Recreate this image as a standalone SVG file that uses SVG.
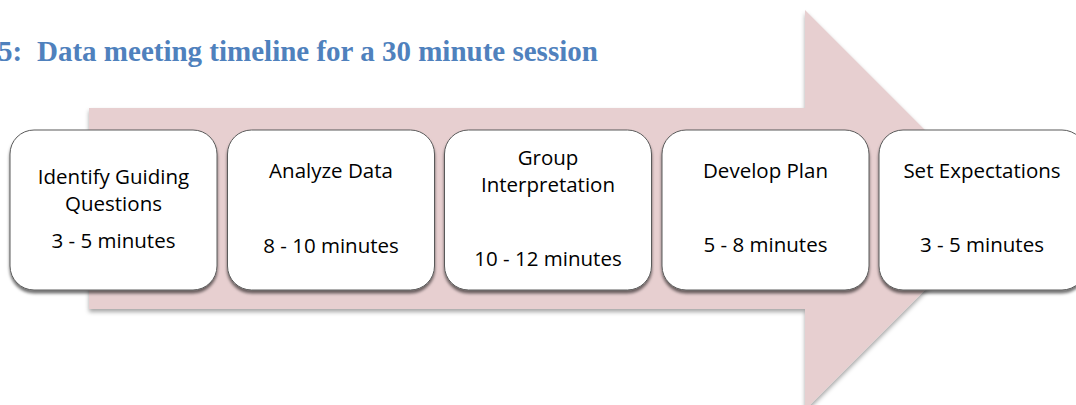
<svg xmlns="http://www.w3.org/2000/svg" width="1076" height="405" viewBox="0 0 1076 405">
  <style>
    .title { font-family: "Liberation Serif", "Times New Roman", serif; font-weight: bold; font-size: 29px; fill: #4F81BD; }
    .box { fill: #FFFFFF; stroke: #5a5a5a; stroke-width: 1; filter: url(#shadow); }
    .lbl { font-family: "Open Sans", "Liberation Sans", sans-serif; font-size: 20.5px; fill: #000000; text-anchor: middle; }
    .arrow { fill: #E7CFD0; filter: url(#ashadow); }
  </style>
  <defs>
    <filter id="shadow" x="-10%" y="-10%" width="120%" height="130%">
      <feDropShadow dx="0" dy="3" stdDeviation="1.8" flood-color="#000000" flood-opacity="0.55"/>
    </filter>
    <filter id="ashadow" x="-10%" y="-10%" width="120%" height="130%">
      <feDropShadow dx="0" dy="3" stdDeviation="2" flood-color="#000000" flood-opacity="0.35"/>
    </filter>
  </defs>

  <rect width="1076" height="405" fill="#FFFFFF"/>

  <g id="title">
    <text class="title" x="-2" y="61">5:</text>
    <text class="title" x="37" y="61">Data meeting timeline for a 30 minute session</text>
  </g>

  <g id="connectors">
    <path class="arrow" d="M89,108 H805 V10 L1005,210 L805,410 V309 H89 Z"/>
  </g>

  <g id="node1">
    <rect class="box" x="10" y="130" width="207" height="160" rx="24" ry="24"/>
    <text class="lbl" x="113.5" y="184">Identify Guiding</text>
    <text class="lbl" x="113.5" y="211">Questions</text>
    <text class="lbl" x="113.5" y="248">3 - 5 minutes</text>
  </g>

  <g id="node2">
    <rect class="box" x="227.5" y="130" width="207" height="160" rx="24" ry="24"/>
    <text class="lbl" x="331" y="178">Analyze Data</text>
    <text class="lbl" x="331" y="253">8 - 10 minutes</text>
  </g>

  <g id="node3">
    <rect class="box" x="444.5" y="130" width="207" height="160" rx="24" ry="24"/>
    <text class="lbl" x="548" y="165">Group</text>
    <text class="lbl" x="548" y="192">Interpretation</text>
    <text class="lbl" x="548" y="266">10 - 12 minutes</text>
  </g>

  <g id="node4">
    <rect class="box" x="662" y="130" width="207" height="160" rx="24" ry="24"/>
    <text class="lbl" x="765.5" y="178">Develop Plan</text>
    <text class="lbl" x="765.5" y="252">5 - 8 minutes</text>
  </g>

  <g id="node5">
    <rect class="box" x="879" y="130" width="207" height="160" rx="24" ry="24"/>
    <text class="lbl" x="982" y="178">Set Expectations</text>
    <text class="lbl" x="982" y="252">3 - 5 minutes</text>
  </g>
</svg>
